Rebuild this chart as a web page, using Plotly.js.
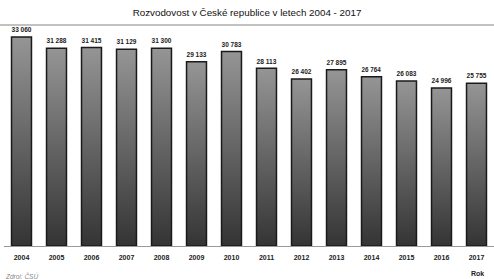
<!DOCTYPE html>
<html>
<head>
<meta charset="utf-8">
<script src="https://cdn.plot.ly/plotly-3.0.1.min.js"></script>
<style>html,body{margin:0;padding:0;background:#fff;}#wrap{position:relative;width:494px;height:279px;}#chart{width:494px;height:279px;}#rule{position:absolute;left:0;top:24px;width:494px;height:2px;background:#c2c2c2;pointer-events:none;}</style>
</head>
<body>
<div id="wrap"><div id="chart"></div><div id="rule"></div></div>
<script>
const years = ["2004","2005","2006","2007","2008","2009","2010","2011","2012","2013","2014","2015","2016","2017"];
const divorces = [33060,31288,31415,31129,31300,29133,30783,28113,26402,27895,26764,26083,24996,25755];
const titleText = "Rozvodovost v České republice v letech 2004 - 2017";
const axisLabel = "Rok";
const sourceText = "Zdroj: ČSÚ";

const trace = {
  type: "bar",
  x: years,
  y: divorces,
  marker: {color: "#5a5a5a", line: {color: "#1a1a1a", width: 1.5}},
  texttemplate: "<b>%{y:,}</b>",
  textposition: "outside",
  cliponaxis: false,
  textfont: {family: "Arial, Liberation Sans, sans-serif", size: 7.5, color: "#222"},
  hoverinfo: "none"
};

const layout = {
  width: 494, height: 279,
  margin: {l: 4, r: 0, t: 30, b: 33},
  paper_bgcolor: "#fff", plot_bgcolor: "#fff",
  separators: ", ",
  bargap: 0.43,
  showlegend: false,
  title: {text: titleText, x: 0.5, xanchor: "center", y: 0.955, yanchor: "middle",
          font: {family: "Arial, Liberation Sans, sans-serif", size: 9.8, color: "#111"}},
  xaxis: {type: "category", range: [-0.5, 13.5], showgrid: false, showline: true,
          linecolor: "#999", linewidth: 1, ticks: "", tickvals: years, ticklabelstandoff: 5,
          ticktext: years.map(y => "<b>" + y + "</b>"),
          tickfont: {family: "Arial, Liberation Sans, sans-serif", size: 7, color: "#222"},
          fixedrange: true},
  yaxis: {range: [0, 34170], visible: false, showgrid: false, zeroline: false, fixedrange: true},
  shapes: [{type: "line", xref: "paper", yref: "paper", x0: -0.01, x1: 1.01, y0: 1.023, y1: 1.023,
            line: {color: "#bdbdbd", width: 1.5}}],
  annotations: [
    {text: "<b>" + axisLabel + "</b>", xref: "paper", yref: "paper", x: 0.966, y: -0.1, xanchor: "center", yanchor: "top",
     showarrow: false, font: {family: "Arial, Liberation Sans, sans-serif", size: 7, color: "#222"}},
    {text: "<i>" + sourceText + "</i>", xref: "paper", yref: "paper", x: -0.002, y: -0.11, xanchor: "left", yanchor: "top",
     showarrow: false, font: {family: "Arial, Liberation Sans, sans-serif", size: 6.5, color: "#888"}}
  ]
};

Plotly.newPlot("chart", [trace], layout, {displayModeBar: false, staticPlot: true}).then(function(gd){
  const svg = gd.querySelector(".main-svg");
  const ns = "http://www.w3.org/2000/svg";
  let defs = svg.querySelector("defs");
  if (!defs) { defs = document.createElementNS(ns, "defs"); svg.insertBefore(defs, svg.firstChild); }
  const grad = document.createElementNS(ns, "linearGradient");
  grad.setAttribute("id", "barGrad");
  grad.setAttribute("x1", "0"); grad.setAttribute("y1", "0");
  grad.setAttribute("x2", "0"); grad.setAttribute("y2", "1");
  [["0%", "#959595"], ["100%", "#343434"]].forEach(function(s){
    const st = document.createElementNS(ns, "stop");
    st.setAttribute("offset", s[0]); st.setAttribute("stop-color", s[1]);
    grad.appendChild(st);
  });
  defs.appendChild(grad);
  gd.querySelectorAll(".bars .point path").forEach(function(p){ p.style.fill = "url(#barGrad)"; });
});
</script>
</body>
</html>
